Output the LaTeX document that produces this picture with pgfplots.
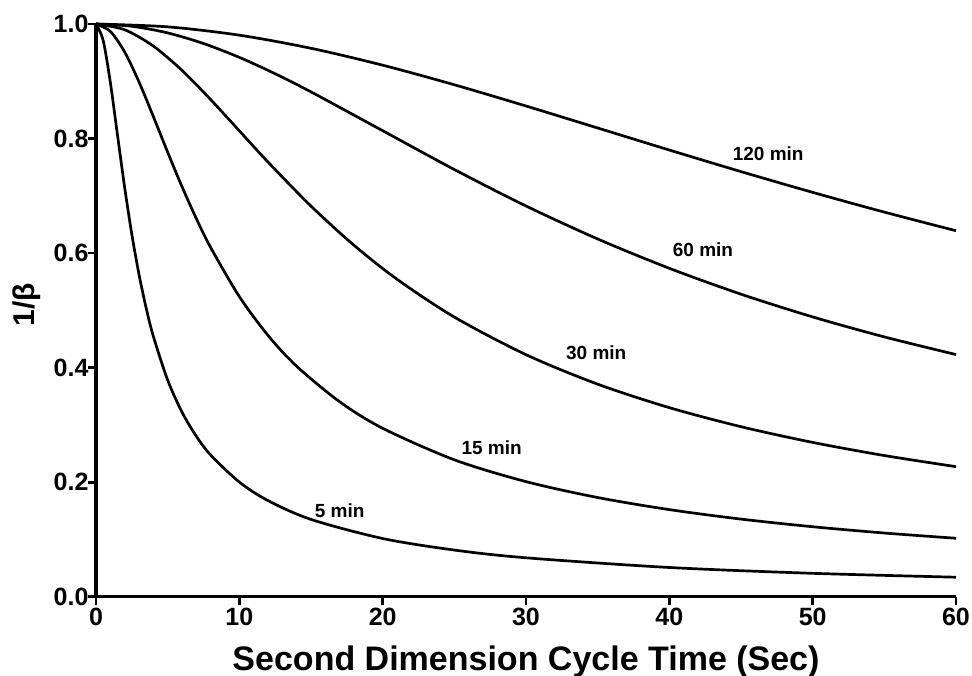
\documentclass[border=0pt]{standalone}
\usepackage{fontspec}
\setmainfont{Liberation Sans}
\usepackage{pgfplots}
\pgfplotsset{compat=1.18}

\begin{document}
\begin{tikzpicture}
\begin{axis}[
  width=860pt, height=572.7pt, scale only axis,
  xmin=0, xmax=60, ymin=0, ymax=1,
  axis x line*=bottom, axis y line*=left,
  axis line style={line width=3.2pt},
  tick align=outside, major tick length=8pt,
  every tick/.style={black, line width=2.8pt},
  xtick={0,10,20,30,40,50,60},
  ytick={0,0.2,0.4,0.6,0.8,1.0},
  yticklabel style={xshift=4pt, /pgf/number format/.cd, fixed, fixed zerofill, precision=1},
  /pgf/number format/assume math mode=true,
  tick label style={font=\fontsize{25}{27}\selectfont\bfseries},
  xlabel={Second Dimension Cycle Time (Sec)},
  ylabel={1/β},
  every axis x label/.style={at={(axis description cs:0.5,0)}, anchor=base,
    yshift=-74pt, font=\fontsize{34}{38}\selectfont\bfseries},
  every axis y label/.style={at={(axis description cs:-0.081,0.51)}, anchor=center,
    rotate=90, font=\fontsize{30}{34}\selectfont\bfseries},
  clip=false,
  curve/.style={black, line width=2.7pt, smooth, no marks},
]
% 120 min
\addplot[curve] coordinates {
  (0,1) (5,0.99503) (10,0.98046) (15,0.95758) (20,0.92808) (25,0.89387)
  (30,0.85679) (35,0.81839) (40,0.77992) (45,0.74226) (50,0.70600)
  (55,0.67152) (60,0.63900)
};
% 60 min
\addplot[curve] coordinates {
  (0,1) (2.5,0.99604) (5,0.98443) (7.5,0.96593) (10,0.94172) (12.5,0.91311)
  (15,0.88144) (20,0.81368) (25,0.74587) (30,0.68225) (35,0.62462)
  (40,0.57339) (45,0.52823) (50,0.48853) (55,0.45361) (60,0.42282)
};
% 30 min
\addplot[curve] coordinates {
  (0,1) (2,0.98993) (4,0.96146) (6,0.91902) (8,0.86806) (10,0.81349)
  (12,0.75897) (15,0.68200) (18,0.61360) (21,0.55437) (25,0.48828)
  (30,0.42258) (35,0.37111) (40,0.33009) (45,0.29683) (50,0.26941)
  (55,0.24648) (60,0.22704)
};
% 15 min
\addplot[curve] coordinates {
  (0,1) (1,0.98705) (2,0.95103) (3,0.89887) (4,0.83843) (5,0.77609)
  (6,0.71597) (7,0.66023) (8,0.60968) (10,0.52407) (12,0.45629)
  (14,0.40238) (17,0.34035) (20,0.29407) (25,0.23900) (30,0.20093)
  (35,0.17316) (40,0.15205) (45,0.13548) (50,0.12215) (55,0.11119)
  (60,0.10202)
};
% 5 min
\addplot[curve] coordinates {
  (0,1) (0.5,0.97132) (1,0.89813) (1.5,0.80600) (2,0.71451) (2.5,0.63270)
  (3,0.56278) (3.5,0.50403) (4,0.45477) (5,0.37817) (6,0.32226)
  (7,0.28011) (8,0.24738) (10,0.20012) (12,0.16780) (15,0.13492)
  (20,0.10160) (25,0.08143) (30,0.06793) (40,0.05100) (50,0.04082)
  (60,0.03402)
};
\begin{scope}[font=\fontsize{19}{21}\selectfont\bfseries]
  \node at (axis cs:46.9,0.773) {120 min};
  \node at (axis cs:42.35,0.605) {60 min};
  \node at (axis cs:34.9,0.426) {30 min};
  \node at (axis cs:27.6,0.260) {15 min};
  \node at (axis cs:17.0,0.151) {5 min};
\end{scope}
\end{axis}
\pgfresetboundingbox
\path[use as bounding box] (-96pt,-79.3pt) rectangle (876pt,596.7pt);
\end{tikzpicture}
\end{document}
